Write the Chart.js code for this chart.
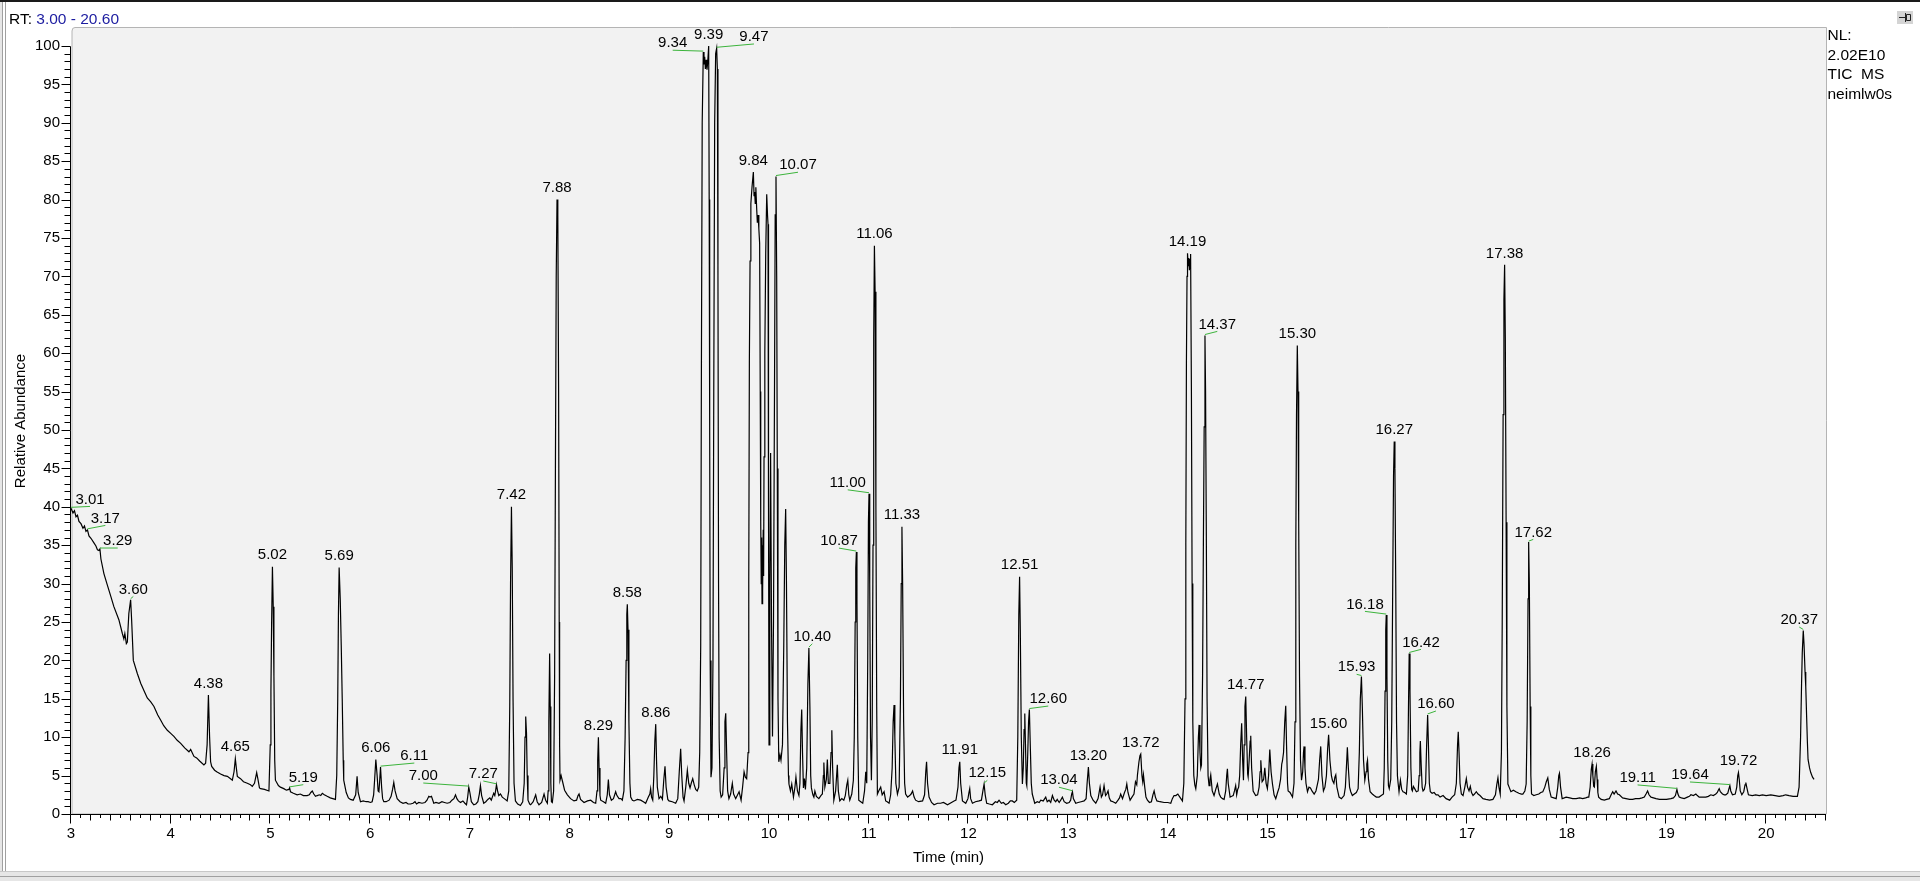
<!DOCTYPE html>
<html>
<head>
<meta charset="utf-8">
<title>TIC MS neimlw0s</title>
<script src="https://cdn.jsdelivr.net/npm/chart.js@4.4.0/dist/chart.umd.min.js"></script>
<style>
  html, body { margin: 0; padding: 0; background: #fff; }
  canvas { display: block; }
</style>
</head>
<body>
<canvas id="tic" width="1920" height="881"></canvas>
<script>
// ---------------------------------
// - TRACE DATA  [time (min), rel. abundance %]
// ---------------------------------
var trace3to45 = [
  [3.00,39.8],[3.02,39.2],[3.035,39.5],[3.05,38.7],[3.065,38.9],[3.08,38.1],[3.10,37.8],[3.12,37.2],[3.135,37.5],
  [3.15,36.8],[3.165,37.0],[3.18,36.2],[3.20,35.9],[3.23,35.3],[3.25,34.9],[3.265,34.4],[3.28,34.3],[3.29,34.5],
  [3.30,33.2],[3.33,31.3],[3.36,30.0],[3.40,28.3],[3.43,27.0],[3.48,25.3],[3.515,23.5],[3.53,22.8],[3.54,23.5],
  [3.555,22.2],[3.565,22.4],[3.58,26.1],[3.598,27.9],[3.608,25.3],[3.625,20.0],[3.665,18.3],[3.70,17.0],[3.73,16.1],
  [3.765,15.1],[3.80,14.6],[3.832,14.0],[3.87,12.9],[3.90,12.2],[3.93,11.5],[3.966,10.9],[4.00,10.5],[4.032,10.1],
  [4.065,9.6],[4.10,9.2],[4.14,8.6],[4.183,8.1],[4.20,8.4],[4.233,7.5],[4.26,7.3],[4.29,6.9],[4.333,6.4],[4.35,6.6],
  [4.365,9.0],[4.378,15.5],[4.39,10.0],[4.40,6.8],[4.411,6.2],[4.44,5.7],[4.461,5.5],[4.50,5.2]
];
var trace45to6 = [
  [4.535,5.0],[4.568,4.9],[4.60,4.6],[4.618,4.4],[4.635,5.5],[4.648,7.2],[4.658,6.0],[4.668,4.9],[4.70,4.6],[4.73,4.2],
  [4.768,4.0],[4.80,3.8],[4.818,3.6],[4.84,4.0],[4.862,5.4],[4.875,4.5],[4.89,3.4],[4.902,3.3],[4.94,3.2],[4.985,3.0],
  [4.998,9.0],[5.005,16.0],[5.012,25.0],[5.02,32.2],[5.028,27.0],[5.035,18.0],[5.043,7.0],[5.05,4.4],[5.08,3.7],
  [5.10,3.5],[5.134,3.3],[5.16,3.1],[5.185,3.2],[5.192,3.4],[5.201,2.9],[5.23,2.7],[5.268,2.5],[5.30,2.6],[5.33,2.4],
  [5.368,2.4],[5.39,2.5],[5.405,2.8],[5.42,3.0],[5.435,2.6],[5.452,2.3],[5.47,2.4],[5.49,2.5],[5.505,2.4],[5.52,2.7],
  [5.54,2.5],[5.569,2.3],[5.60,2.1],[5.625,2.0],[5.652,1.9],[5.665,5.0],[5.675,15.0],[5.682,26.0],[5.689,32.1],
  [5.70,28.0],[5.71,22.0],[5.72,15.0],[5.73,7.0],[5.735,4.4],[5.76,2.8],[5.782,2.1],[5.802,1.9],[5.83,1.8],[5.855,2.5],
  [5.869,4.9],[5.88,2.8],[5.903,1.6],[5.93,1.7],[5.96,1.6],[5.98,1.6],[6.003,1.5]
];
var trace6to76 = [
  [6.02,1.6],[6.035,2.5],[6.045,4.5],[6.057,7.1],[6.07,5.0],[6.08,3.0],[6.088,2.9],[6.095,4.2],[6.104,6.1],[6.115,3.5],
  [6.125,2.0],[6.137,1.6],[6.16,1.6],[6.19,1.8],[6.21,2.3],[6.225,3.2],[6.237,4.1],[6.25,3.0],[6.271,2.0],[6.30,1.6],
  [6.33,1.4],[6.36,1.5],[6.38,1.3],[6.405,1.3],[6.43,1.4],[6.45,1.6],[6.465,1.3],[6.488,1.5],[6.52,1.4],[6.55,1.5],
  [6.57,1.8],[6.588,2.3],[6.60,2.2],[6.615,2.3],[6.638,1.4],[6.66,1.5],[6.69,1.4],[6.72,1.6],[6.745,1.5],[6.772,1.4],
  [6.80,1.5],[6.82,1.8],[6.84,2.0],[6.856,2.5],[6.87,2.0],[6.885,1.7],[6.906,1.5],[6.93,1.7],[6.95,1.4],[6.966,1.2],
  [6.978,2.2],[6.989,3.5],[7.00,2.8],[7.015,1.6],[7.039,1.2],[7.06,1.3],[7.08,1.6],[7.095,2.6],[7.106,3.7],[7.118,2.4],
  [7.139,1.4],[7.16,1.6],[7.18,1.9],[7.20,2.1],[7.215,1.8],[7.228,2.3],[7.239,2.7],[7.25,2.4],[7.258,3.0],[7.267,3.8],
  [7.278,3.0],[7.29,2.4],[7.307,2.6],[7.325,2.2],[7.345,2.0],[7.374,1.7],[7.39,3.0],[7.40,14.0],[7.408,30.0],
  [7.417,40.0],[7.425,32.0],[7.433,15.0],[7.443,4.0],[7.457,1.7],[7.48,1.3],[7.507,1.1],[7.53,1.6],[7.545,4.0],
  [7.553,10.0],[7.56,12.7],[7.568,10.5],[7.575,5.0],[7.583,1.8],[7.60,1.3],[7.61,1.2]
];
var trace76to93 = [
  [7.635,1.6],[7.66,2.5],[7.675,1.6],[7.693,1.2],[7.72,1.5],[7.744,2.6],[7.76,1.8],[7.777,1.4],[7.785,3.0],[7.792,12.0],
  [7.80,20.9],[7.806,14.0],[7.812,4.0],[7.818,1.6],[7.827,1.5],[7.84,3.0],[7.85,18.0],[7.858,45.0],[7.866,70.0],
  [7.874,80.0],[7.882,78.0],[7.89,55.0],[7.896,25.0],[7.90,9.0],[7.904,4.4],[7.915,5.0],[7.93,4.2],[7.95,3.1],
  [7.978,2.5],[8.01,2.0],[8.044,1.7],[8.07,1.8],[8.085,2.4],[8.095,2.6],[8.11,1.9],[8.145,1.5],[8.18,1.7],[8.212,1.8],
  [8.24,1.5],[8.262,1.4],[8.275,3.0],[8.282,7.0],[8.289,10.0],[8.296,6.0],[8.305,2.4],[8.312,1.8],[8.34,1.6],
  [8.362,1.4],[8.378,2.5],[8.389,4.5],[8.40,2.5],[8.419,1.8],[8.44,2.0],[8.462,2.9],[8.475,2.4],[8.496,2.0],[8.515,2.0],
  [8.529,1.8],[8.545,3.0],[8.557,10.0],[8.567,20.0],[8.574,26.0],[8.579,27.3],[8.586,24.0],[8.595,12.0],[8.605,4.0],
  [8.613,2.2],[8.63,1.8],[8.646,1.7],[8.68,1.9],[8.713,1.8],[8.74,1.6],[8.763,1.4],[8.79,2.2],[8.805,2.6],[8.813,3.3],
  [8.822,2.2],[8.834,1.8],[8.845,5.0],[8.855,9.5],[8.864,11.7],[8.872,7.0],[8.88,3.5],[8.897,2.0],[8.915,2.3],
  [8.931,1.9],[8.945,4.5],[8.957,6.2],[8.968,3.5],[8.985,1.9],[8.997,1.7],[9.03,1.6],[9.064,1.4],[9.085,2.0],
  [9.10,5.5],[9.114,8.5],[9.125,5.0],[9.138,2.2],[9.148,1.7],[9.165,3.5],[9.181,5.7],[9.195,4.0],[9.208,3.4],
  [9.22,4.0],[9.235,4.6],[9.25,3.8],[9.265,3.2],[9.28,3.0],[9.295,3.5]
];
var trace93to102 = [
  [9.305,8.0],[9.315,22.0],[9.322,58.0],[9.33,90.0],[9.341,99.2],[9.348,97.6],[9.355,98.6],[9.362,97.0],[9.37,98.2],
  [9.378,96.9],[9.386,98.0],[9.395,100.0],[9.40,80.0],[9.405,50.0],[9.41,20.0],[9.418,4.8],[9.428,6.0],[9.438,20.0],
  [9.446,55.0],[9.455,90.0],[9.465,99.0],[9.475,99.7],[9.482,97.0],[9.488,70.0],[9.494,30.0],[9.50,10.0],[9.51,3.0],
  [9.52,2.2],[9.535,2.5],[9.55,6.0],[9.558,12.0],[9.566,13.1],[9.575,8.0],[9.585,3.0],[9.598,2.0],[9.615,2.6],
  [9.632,4.0],[9.645,2.6],[9.666,2.0],[9.685,2.5],[9.70,2.9],[9.72,1.8],[9.735,3.5],[9.75,5.5],[9.763,4.8],[9.776,4.6],
  [9.79,8.0],[9.797,30.0],[9.803,59.0],[9.81,72.0],[9.818,79.5],[9.83,81.7],[9.843,83.6],[9.85,80.5],[9.856,81.0],
  [9.862,79.5],[9.868,81.6],[9.876,78.9],[9.883,77.0],[9.89,78.0],[9.898,76.2],[9.906,74.3],[9.912,55.0],[9.917,38.0],
  [9.922,30.0],[9.926,36.0],[9.93,27.4],[9.934,35.0],[9.938,29.0],[9.942,37.0],[9.946,31.0],[9.95,46.5],[9.958,60.0],
  [9.967,73.0],[9.977,80.7],[9.985,78.0],[9.99,76.8],[9.995,40.0],[10.00,9.0],[10.008,30.0],[10.016,47.0],
  [10.025,25.0],[10.035,10.1],[10.045,25.0],[10.055,55.0],[10.062,78.0],[10.07,83.0],[10.077,70.0],[10.083,45.0],
  [10.09,15.0],[10.098,6.8],[10.11,7.7],[10.12,7.0],[10.135,9.0],[10.148,22.0],[10.158,35.0],[10.167,39.7],
  [10.175,30.0],[10.185,12.0],[10.195,5.0],[10.20,3.9]
];
var trace102to117 = [
  [10.215,3.0],[10.228,3.9],[10.245,2.2],[10.26,3.5],[10.27,4.8],[10.285,3.0],[10.30,2.4],[10.31,4.0],[10.32,11.0],
  [10.328,13.6],[10.336,8.0],[10.345,3.4],[10.355,4.6],[10.365,3.2],[10.378,6.0],[10.39,17.0],[10.40,21.6],[10.41,14.0],
  [10.418,5.0],[10.425,3.4],[10.44,2.5],[10.45,2.2],[10.46,3.0],[10.475,2.3],[10.50,2.0],[10.52,2.4],[10.535,2.6],
  [10.545,5.0],[10.55,6.7],[10.56,3.5],[10.575,4.5],[10.585,7.1],[10.595,4.0],[10.61,4.0],[10.622,8.0],[10.63,10.9],
  [10.638,6.0],[10.65,1.8],[10.668,3.0],[10.685,6.4],[10.695,3.0],[10.71,1.7],[10.73,2.0],[10.75,1.8],[10.765,2.4],
  [10.78,3.8],[10.79,4.4],[10.80,2.5],[10.81,1.8],[10.83,2.6],[10.846,4.4],[10.855,10.0],[10.864,25.0],[10.87,32.0],
  [10.876,34.1],[10.882,28.0],[10.89,10.0],[10.90,1.8],[10.92,1.6],[10.94,1.4],[10.958,3.0],[10.97,5.5],[10.98,4.0],
  [10.99,20.0],[10.997,38.0],[11.003,41.7],[11.01,30.0],[11.018,10.0],[11.027,4.4],[11.035,12.0],[11.043,35.0],
  [11.05,62.0],[11.057,74.0],[11.064,68.0],[11.072,40.0],[11.08,14.0],[11.087,2.6],[11.10,3.0],[11.12,3.5],
  [11.135,2.5],[11.154,2.9],[11.17,1.7],[11.185,1.6],[11.204,1.4],[11.22,2.5],[11.235,6.0],[11.245,12.0],[11.254,14.2],
  [11.262,10.0],[11.272,4.0],[11.288,2.6],[11.305,3.5],[11.318,15.0],[11.326,30.0],[11.333,37.4],[11.34,30.0],
  [11.35,12.0],[11.36,4.0],[11.37,2.6],[11.39,2.2],[11.41,2.4],[11.425,2.6],[11.44,3.0],[11.455,2.2],[11.47,1.8],
  [11.50,1.6],[11.54,1.7],[11.56,2.5],[11.572,5.5],[11.58,6.8],[11.59,4.0],[11.605,2.2],[11.63,1.5],[11.655,1.2],
  [11.69,1.4]
];
var trace117to1415 = [
  [11.72,1.4],[11.75,1.5],[11.79,1.2],[11.83,1.5],[11.856,1.7],[11.875,1.8],[11.895,3.5],[11.905,6.0],[11.913,6.8],
  [11.922,4.0],[11.94,1.7],[11.973,1.4],[11.995,2.0],[12.005,2.8],[12.013,3.3],[12.022,2.0],[12.04,1.4],[12.07,1.6],
  [12.107,1.7],[12.13,1.8],[12.145,3.0],[12.157,3.9],[12.168,2.5],[12.183,1.4],[12.21,1.3],[12.24,1.2],[12.27,1.6],
  [12.29,1.5],[12.307,1.8],[12.33,1.4],[12.35,1.5],[12.374,1.2],[12.40,1.4],[12.42,1.7],[12.44,1.7],[12.46,1.5],
  [12.484,1.8],[12.495,10.0],[12.505,26.0],[12.513,30.9],[12.52,24.0],[12.53,10.0],[12.541,3.9],[12.55,6.0],
  [12.558,11.0],[12.565,13.1],[12.572,9.0],[12.58,4.0],[12.585,3.7],[12.595,8.0],[12.603,12.0],[12.611,13.6],
  [12.62,9.0],[12.63,4.0],[12.64,2.6],[12.665,1.4],[12.69,1.6],[12.71,1.5],[12.725,1.8],[12.75,1.7],[12.765,2.0],
  [12.775,2.2],[12.79,1.6],[12.808,1.8],[12.825,1.5],[12.842,2.4],[12.86,1.8],[12.875,1.6],[12.89,1.9],[12.91,1.5],
  [12.925,1.8],[12.942,2.2],[12.96,1.6],[12.985,1.4],[13.01,1.5],[13.025,1.8],[13.035,2.6],[13.043,2.9],[13.052,2.0],
  [13.076,1.4],[13.10,1.5],[13.13,1.6],[13.16,1.7],[13.18,2.0],[13.19,4.0],[13.203,6.1],[13.213,4.0],[13.227,2.4],
  [13.25,1.8],[13.277,1.4],[13.30,2.0],[13.32,3.5],[13.333,2.2],[13.345,2.5],[13.36,3.7],[13.375,2.4],[13.387,2.6],
  [13.40,3.0],[13.412,2.1],[13.427,1.7],[13.45,1.6],[13.477,1.4],[13.50,1.8],[13.515,2.1],[13.527,2.6],[13.545,2.0],
  [13.565,2.8],[13.578,3.2],[13.588,3.9],[13.60,2.8],[13.621,1.8],[13.64,2.2],[13.66,2.6],[13.675,4.2],[13.688,3.8],
  [13.695,5.1],[13.71,6.8],[13.72,7.6],[13.728,7.8],[13.74,5.0],[13.748,4.2],[13.755,5.1],[13.768,3.5],[13.78,2.2],
  [13.795,1.8],[13.815,1.5],[13.835,1.6],[13.85,2.5],[13.862,3.0],[13.875,2.2],[13.89,1.7],[13.92,1.6],[13.962,1.5],
  [14.00,1.5],[14.029,1.4],[14.045,2.0],[14.062,2.4],[14.08,2.4],[14.10,2.6],[14.12,2.2],[14.146,1.7]
];
var trace1415to162 = [
  [14.16,4.0],[14.172,15.0],[14.18,35.0],[14.186,58.7],[14.192,70.0],[14.197,73.0],[14.204,71.4],[14.21,72.4],
  [14.216,70.8],[14.222,72.2],[14.228,72.9],[14.236,55.0],[14.243,30.0],[14.25,12.0],[14.26,5.0],[14.27,3.8],
  [14.28,3.3],[14.295,5.0],[14.306,10.0],[14.313,11.6],[14.322,8.0],[14.33,6.0],[14.337,6.4],[14.348,18.0],
  [14.356,35.0],[14.364,50.4],[14.372,62.3],[14.378,55.0],[14.385,38.0],[14.393,15.0],[14.403,5.0],[14.413,3.7],
  [14.422,4.5],[14.43,5.1],[14.445,3.0],[14.463,2.4],[14.48,3.2],[14.497,3.9],[14.515,2.6],[14.53,2.2],[14.548,2.0],
  [14.564,1.9],[14.58,3.0],[14.59,5.0],[14.597,5.9],[14.605,4.0],[14.624,2.2],[14.64,2.3],[14.655,2.4],[14.668,3.0],
  [14.68,3.7],[14.69,2.5],[14.70,3.2],[14.71,3.5],[14.72,5.0],[14.73,9.0],[14.74,11.8],[14.75,7.0],[14.758,4.4],
  [14.765,9.0],[14.773,14.0],[14.781,15.3],[14.79,10.0],[14.80,5.2],[14.805,4.8],[14.815,7.0],[14.825,9.5],
  [14.831,10.2],[14.84,6.0],[14.855,3.0],[14.88,2.4],[14.90,2.5],[14.915,3.5],[14.925,5.5],[14.932,7.0],[14.945,4.2],
  [14.96,4.5],[14.972,6.0],[14.985,4.0],[14.998,3.3],[15.01,5.0],[15.022,8.4],[15.035,5.5],[15.049,3.9],[15.065,2.5],
  [15.082,2.0],[15.10,2.8],[15.115,3.4],[15.13,4.5],[15.142,6.5],[15.149,6.9],[15.16,8.0],[15.172,12.0],[15.182,14.1],
  [15.19,9.0],[15.20,4.0],[15.206,3.0],[15.225,2.8],[15.25,2.2],[15.265,4.0],[15.275,12.0],[15.283,35.0],[15.29,52.0],
  [15.298,61.0],[15.305,55.0],[15.312,38.0],[15.32,18.0],[15.33,7.0],[15.34,4.4],[15.352,5.5],[15.36,8.0],[15.366,8.8],
  [15.375,6.0],[15.385,4.0],[15.40,2.9],[15.415,3.5],[15.43,3.4],[15.445,3.0],[15.467,2.6],[15.485,3.0],[15.50,3.9],
  [15.51,4.5],[15.522,7.0],[15.533,8.8],[15.545,5.0],[15.56,3.0],[15.575,3.5],[15.59,5.0],[15.602,8.5],[15.612,10.3],
  [15.625,7.0],[15.64,5.0],[15.65,4.4],[15.665,4.0],[15.675,4.8],[15.684,5.1],[15.695,3.5],[15.717,2.2],[15.74,2.0],
  [15.767,2.4],[15.78,3.5],[15.792,6.5],[15.80,8.7],[15.81,6.0],[15.822,3.5],[15.834,2.9],[15.85,2.4],[15.87,2.6],
  [15.89,2.8],[15.908,3.3],[15.92,8.0],[15.93,15.0],[15.941,17.9],[15.95,14.0],[15.962,7.0],[15.975,4.4],[15.988,5.5],
  [15.995,6.5],[16.002,7.0],[16.012,4.5],[16.028,2.9],[16.05,2.6],[16.068,2.4],[16.09,2.2],[16.118,2.2],[16.14,2.4],
  [16.162,2.6],[16.17,6.0],[16.178,16.0],[16.185,24.0],[16.19,25.9],[16.197,18.0],[16.205,7.0],[16.212,3.7],[16.22,3.3]
];
var trace162to18 = [
  [16.235,4.5],[16.245,12.0],[16.255,30.0],[16.263,44.0],[16.27,48.5],[16.277,45.0],[16.285,30.0],[16.293,12.0],
  [16.302,5.0],[16.309,4.0],[16.318,2.9],[16.332,4.4],[16.345,3.2],[16.358,2.9],[16.375,2.8],[16.392,2.6],[16.405,5.0],
  [16.413,14.0],[16.42,20.9],[16.428,16.0],[16.437,6.0],[16.445,3.2],[16.452,3.0],[16.462,3.6],[16.475,3.3],
  [16.492,2.9],[16.51,3.0],[16.52,5.0],[16.527,8.0],[16.532,9.5],[16.54,6.5],[16.55,3.5],[16.559,3.0],[16.572,3.2],
  [16.585,4.0],[16.595,9.0],[16.605,12.9],[16.613,9.0],[16.622,4.0],[16.632,2.9],[16.65,2.7],[16.67,2.8],[16.69,2.5],
  [16.709,2.5],[16.73,2.2],[16.76,2.4],[16.79,2.0],[16.826,1.8],[16.85,2.2],[16.876,2.5],[16.893,4.0],[16.905,9.0],
  [16.912,10.7],[16.92,8.0],[16.93,4.0],[16.943,2.6],[16.96,2.4],[16.978,3.5],[16.993,4.6],[17.005,3.5],[17.02,3.0],
  [17.033,3.6],[17.045,2.8],[17.06,2.4],[17.075,2.6],[17.093,2.9],[17.11,2.6],[17.13,2.4],[17.16,2.0],[17.19,1.9],
  [17.226,1.8],[17.26,1.9],[17.285,2.5],[17.298,3.8],[17.31,4.7],[17.32,3.5],[17.333,2.6],[17.345,8.0],[17.353,25.0],
  [17.362,52.0],[17.37,67.0],[17.377,71.5],[17.384,62.0],[17.392,38.0],[17.40,14.0],[17.41,3.9],[17.425,3.4],
  [17.44,2.9],[17.465,3.1],[17.49,2.9],[17.52,2.7],[17.545,2.6],[17.56,2.6],[17.58,3.0],[17.593,3.9],[17.603,12.0],
  [17.612,28.0],[17.618,35.4],[17.625,30.0],[17.633,14.0],[17.64,5.0],[17.647,2.6],[17.67,2.4],[17.694,2.5],
  [17.72,2.6],[17.74,2.8],[17.76,2.9],[17.78,3.5],[17.795,4.2],[17.81,4.7],[17.825,3.2],[17.844,2.2],[17.87,2.1],
  [17.894,2.0],[17.91,3.5],[17.92,5.0],[17.927,5.3],[17.938,3.5],[17.954,2.0],[17.975,2.1]
];
var trace18to205 = [
  [17.994,2.2],[18.03,2.1],[18.06,2.0],[18.094,2.0],[18.13,2.1],[18.16,2.0],[18.19,2.1],[18.21,2.2],[18.221,2.2],
  [18.235,3.5],[18.246,5.8],[18.254,6.5],[18.262,5.0],[18.27,3.6],[18.277,3.5],[18.287,5.5],[18.297,6.2],[18.305,4.5],
  [18.312,2.8],[18.32,2.2],[18.345,1.9],[18.377,1.8],[18.40,1.9],[18.427,2.0],[18.445,2.5],[18.461,2.9],[18.475,2.6],
  [18.494,3.0],[18.51,2.6],[18.528,2.5],[18.56,2.1],[18.594,2.0],[18.63,1.9],[18.661,1.9],[18.69,2.0],[18.728,2.0],
  [18.755,2.1],[18.778,2.2],[18.795,2.6],[18.811,3.0],[18.825,2.5],[18.845,2.2],[18.87,2.1],[18.895,2.0],[18.93,1.9],
  [18.962,1.9],[19.00,1.9],[19.045,2.0],[19.07,2.1],[19.09,2.4],[19.105,3.2],[19.115,2.6],[19.128,2.2],[19.15,2.1],
  [19.178,2.0],[19.21,2.2],[19.23,2.3],[19.245,2.5],[19.27,2.4],[19.295,2.6],[19.31,2.4],[19.328,2.2],[19.36,2.2],
  [19.395,2.2],[19.42,2.3],[19.445,2.5],[19.47,2.4],[19.495,2.6],[19.51,2.8],[19.52,3.1],[19.529,3.3],[19.54,2.9],
  [19.562,2.6],[19.58,2.5],[19.595,2.5],[19.615,2.7],[19.627,3.3],[19.636,3.7],[19.645,3.0],[19.662,2.5],[19.69,2.6],
  [19.705,3.5],[19.715,5.0],[19.722,5.4],[19.73,4.5],[19.74,3.0],[19.756,2.5],[19.775,2.9],[19.788,3.8],[19.796,4.1],
  [19.805,3.5],[19.822,2.5],[19.86,2.4],[19.896,2.5],[19.93,2.4],[19.963,2.5],[20.00,2.4],[20.046,2.5],[20.09,2.4],
  [20.13,2.3],[20.17,2.4],[20.196,2.5],[20.23,2.4],[20.27,2.3],[20.313,2.3],[20.33,3.5],[20.345,10.0],[20.355,17.0],
  [20.362,21.0],[20.372,23.9],[20.38,22.0],[20.39,18.5],[20.397,16.6],[20.405,13.0],[20.413,9.5],[20.42,7.1],
  [20.435,6.0],[20.447,5.4],[20.465,4.8],[20.48,4.5]
];

// labelled retention times (min)
var peakRT = [3.01, 3.17, 3.29, 3.60, 4.38, 4.65, 5.02, 5.19, 5.69, 6.06, 6.11, 7.00, 7.27, 7.42, 7.88, 8.29, 8.58,
  8.86, 9.34, 9.39, 9.47, 9.84, 10.07, 10.40, 10.87, 11.00, 11.06, 11.33, 11.91, 12.15, 12.51, 12.60, 13.04, 13.20,
  13.72, 14.19, 14.37, 14.77, 15.30, 15.60, 15.93, 16.18, 16.27, 16.42, 16.60, 17.38, 17.62, 18.26, 19.11, 19.64,
  19.72, 20.37];

var xTicks = [3, 4, 5, 6, 7, 8, 9, 10, 11, 12, 13, 14, 15, 16, 17, 18, 19, 20];
var yTicks = [0, 5, 10, 15, 20, 25, 30, 35, 40, 45, 50, 55, 60, 65, 70, 75, 80, 85, 90, 95, 100];

var rtRange = [3.00, 20.60];
var infoLines = ['NL:', '2.02E10', 'TIC  MS', 'neimlw0s'];

var trace = [].concat(trace3to45, trace45to6, trace6to76, trace76to93, trace93to102, trace102to117,
  trace117to1415, trace1415to162, trace162to18, trace18to205);


// -----------------
// - LAYOUT / STYLE -
// -----------------
var FONT = '"Liberation Sans", Arial, sans-serif';
var GREEN = '#3cb43c';

// label displacement in px for labels the instrument software moved aside
var labelShift = {
  '3.01': [19, 2.6], '3.17': [17.9, 0.1], '3.29': [17.8, 3.5], '3.60': [2.7, 1.2], '5.19': [13.7, 1.3],
  '6.11': [33.8, 0.4], '7.00': [-45.5, 0.4], '7.27': [-13.2, 0.7], '9.34': [-30.6, 2.6], '9.47': [37.3, 0.2],
  '10.07': [22, 0.2], '10.40': [3.4, 0.2], '10.87': [-17.4, 0.5], '11.00': [-21.3, 0.6], '12.15': [3.2, 0.8],
  '12.60': [18.9, 1], '13.04': [-13.5, 0], '14.37': [12.3, 0.4], '15.93': [-4.8, 2.3], '16.18': [-21.3, 0.8],
  '16.42': [11.8, 0.4], '16.60': [8.3, 0.6], '17.62': [4.6, 1.8], '19.11': [-39.3, 0], '19.64': [-39.9, 0.9],
  '20.37': [-4, 1.1]
};

function apexOf(rt) {
  var best = null;
  trace.forEach(function (p) {
    if (Math.abs(p[0] - rt) <= 0.018 && (!best || p[1] > best[1])) best = p;
  });
  return best;
}

// frame, header and plot background
var framePlugin = {
  id: 'frame',
  beforeDraw: function (chart) {
    var ctx = chart.ctx, a = chart.chartArea, W = chart.width, H = chart.height;
    ctx.save();
    ctx.fillStyle = '#fff';
    ctx.fillRect(0, 0, W, H);

    // window border
    ctx.fillStyle = '#1a1a1a';
    ctx.fillRect(0, 0, W, 2);
    ctx.fillStyle = '#e6e6e6';
    ctx.fillRect(0, 2, 2, H);
    ctx.fillRect(0, H - 9, W, 9);
    ctx.strokeStyle = '#a0a0a0';
    ctx.lineWidth = 1;
    ctx.beginPath();
    ctx.moveTo(2.5, 2); ctx.lineTo(2.5, H - 9);
    ctx.moveTo(5.5, 2); ctx.lineTo(5.5, H - 9);
    ctx.moveTo(0, H - 4.5); ctx.lineTo(W, H - 4.5);
    ctx.stroke();
    ctx.strokeStyle = '#c8c8c8';
    ctx.beginPath();
    ctx.moveTo(0, H - 9.5); ctx.lineTo(W, H - 9.5);
    ctx.stroke();

    // pin icon
    ctx.fillStyle = '#d4d4d4';
    ctx.fillRect(1897, 11, 16, 13);
    ctx.strokeStyle = '#222';
    ctx.beginPath();
    ctx.moveTo(1899, 17.5); ctx.lineTo(1905, 17.5);
    ctx.moveTo(1905.5, 13); ctx.lineTo(1905.5, 22);
    ctx.rect(1906.5, 14.5, 4, 6);
    ctx.stroke();

    // header "RT: 3.00 - 20.60"
    ctx.font = '15.5px ' + FONT;
    ctx.textBaseline = 'alphabetic';
    ctx.textAlign = 'left';
    ctx.fillStyle = '#000';
    ctx.fillText('RT:', 9, 24);
    var w = ctx.measureText('RT: ').width;
    ctx.fillStyle = '#1c1ca0';
    ctx.fillText(rtRange[0].toFixed(2) + ' - ' + rtRange[1].toFixed(2), 9 + w, 24);

    // info panel
    ctx.fillStyle = '#000';
    infoLines.forEach(function (s, i) {
      ctx.fillText(s, a.right + 1.5, 40 + i * 19.7);
    });

    // plot box
    ctx.fillStyle = '#f2f2f2';
    ctx.strokeStyle = '#b4b4b4';
    ctx.beginPath();
    ctx.moveTo(a.left + 1, a.bottom);
    ctx.lineTo(a.left + 1, a.top + 3);
    ctx.quadraticCurveTo(a.left + 1, a.top - 0.5, a.left + 4, a.top - 0.5);
    ctx.lineTo(a.right + 0.5, a.top - 0.5);
    ctx.lineTo(a.right + 0.5, a.bottom);
    ctx.closePath();
    ctx.fill();
    ctx.stroke();
    ctx.restore();
  }
};

// axis lines, major/minor ticks, peak labels
var marksPlugin = {
  id: 'marks',
  afterDraw: function (chart) {
    var ctx = chart.ctx, a = chart.chartArea;
    var xs = chart.scales.x, ys = chart.scales.y;
    var ax = Math.round(a.left) - 0.5, ay = Math.round(a.bottom) + 0.5;
    ctx.save();
    ctx.strokeStyle = '#000';
    ctx.lineWidth = 1;
    ctx.beginPath();
    ctx.moveTo(ax, Math.round(ys.getPixelForValue(100)) + 0.5);
    ctx.lineTo(ax, ay);
    ctx.lineTo(a.right, ay);
    for (var v = 0; v <= 100; v++) {
      var py = Math.round(ys.getPixelForValue(v)) + 0.5;
      ctx.moveTo(ax - (v % 5 === 0 ? 9 : 6), py);
      ctx.lineTo(ax, py);
    }
    for (var k = 30; k <= 206; k++) {
      var px = Math.round(xs.getPixelForValue(k / 10)) - 0.5;
      var len = k % 10 === 0 ? 9 : (k % 2 === 0 ? 6 : 3.5);
      ctx.moveTo(px, ay);
      ctx.lineTo(px, ay + len);
    }
    ctx.stroke();

    // peak labels
    ctx.font = '15px ' + FONT;
    ctx.textAlign = 'center';
    ctx.textBaseline = 'middle';
    peakRT.forEach(function (rt) {
      var p = apexOf(rt);
      if (!p) return;
      var txt = rt.toFixed(2);
      var px = xs.getPixelForValue(p[0]);
      var py = ys.getPixelForValue(p[1]);
      var sh = labelShift[txt] || [0, 0];
      var lx = px + sh[0], ly = py - 11.5 + sh[1];
      if (Math.abs(sh[0]) > 1.5) {
        ctx.strokeStyle = GREEN;
        ctx.beginPath();
        ctx.moveTo(px, py - 1);
        ctx.lineTo(lx, ly + 7);
        ctx.stroke();
      }
      ctx.fillStyle = '#000';
      ctx.fillText(txt, lx, ly);
    });
    ctx.restore();
  }
};


// -------------
// - TIC CHART -
// -------------
Chart.defaults.font.family = FONT;
Chart.defaults.font.size = 15;
Chart.defaults.color = '#000';

new Chart(document.getElementById('tic').getContext('2d'), {
  type: 'line',
  data: {
    datasets: [{
      label: 'TIC MS neimlw0s',
      data: trace.map(function (p) { return { x: p[0], y: p[1] }; }),
      borderColor: '#000',
      borderWidth: 1.2,
      pointRadius: 0,
      tension: 0,
      fill: false
    }]
  },
  options: {
    responsive: false,
    animation: false,
    devicePixelRatio: 1,
    layout: { padding: { left: 0, right: 94, top: 28, bottom: 0 } },
    plugins: { legend: { display: false }, tooltip: { enabled: false } },
    scales: {
      x: {
        type: 'linear',
        min: rtRange[0],
        max: rtRange[1],
        afterBuildTicks: function (s) { s.ticks = xTicks.map(function (t) { return { value: t }; }); },
        afterFit: function (s) { s.height = 67; },
        ticks: { padding: 2, maxRotation: 0, autoSkip: false, callback: function (v) { return String(v); } },
        grid: { drawOnChartArea: false, drawTicks: true, tickLength: 9, tickColor: 'rgba(0,0,0,0)' },
        border: { display: false },
        title: { display: true, text: 'Time (min)', font: { size: 15 }, padding: { top: 0, bottom: 14 } }
      },
      y: {
        min: 0,
        max: 102.34,
        afterBuildTicks: function (s) { s.ticks = yTicks.map(function (t) { return { value: t }; }); },
        afterFit: function (s) { s.width = 71; },
        ticks: { padding: 2, autoSkip: false, callback: function (v) { return String(v); } },
        grid: { drawOnChartArea: false, drawTicks: true, tickLength: 9, tickColor: 'rgba(0,0,0,0)' },
        border: { display: false },
        title: { display: true, text: 'Relative Abundance', font: { size: 15 }, padding: { top: 12, bottom: 0 } }
      }
    }
  },
  plugins: [framePlugin, marksPlugin]
});
</script>
</body>
</html>
